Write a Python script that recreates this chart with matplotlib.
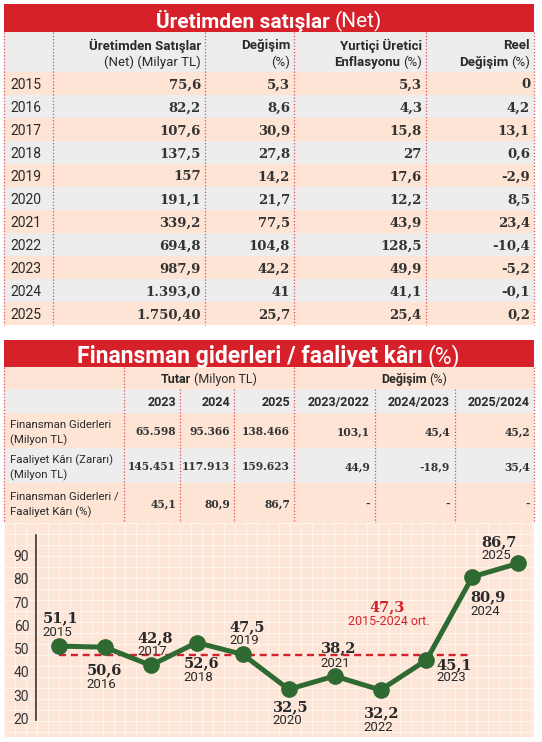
import matplotlib
matplotlib.use("Agg")
import matplotlib.pyplot as plt
from matplotlib.patches import Rectangle

W, H = 542, 742

# ---- top table: Üretimden satışlar (Net)
years = ["2015", "2016", "2017", "2018", "2019", "2020",
         "2021", "2022", "2023", "2024", "2025"]
sales_net = ["75,6", "82,2", "107,6", "137,5", "157", "191,1",
             "339,2", "694,8", "987,9", "1.393,0", "1.750,40"]
sales_change = ["5,3", "8,6", "30,9", "27,8", "14,2", "21,7",
                "77,5", "104,8", "42,2", "41", "25,7"]
producer_inflation = ["5,3", "4,3", "15,8", "27", "17,6", "12,2",
                      "43,9", "128,5", "49,9", "41,1", "25,4"]
real_change = ["0", "4,2", "13,1", "0,6", "-2,9", "8,5",
               "23,4", "-10,4", "-5,2", "-0,1", "0,2"]

# ---- second table: Finansman giderleri / faaliyet kârı
fin_years = ["2023", "2024", "2025"]
chg_periods = ["2023/2022", "2024/2023", "2025/2024"]
row_labels = [("Finansman Giderleri", "(Milyon TL)"),
              ("Faaliyet Kârı (Zararı)", "(Milyon TL)"),
              ("Finansman Giderleri /", "Faaliyet Kârı (%)")]
fin_expense = ["65.598", "95.366", "138.466", "103,1", "45,4", "45,2"]
op_profit = ["145.451", "117.913", "159.623", "44,9", "-18,9", "35,4"]
ratio_row = ["45,1", "80,9", "86,7", "-", "-", "-"]

# ---- line chart
ratio_years = [2015, 2016, 2017, 2018, 2019, 2020, 2021, 2022, 2023, 2024, 2025]
ratio_values = [51.1, 50.6, 42.8, 52.6, 47.5, 32.5, 38.2, 32.2, 45.1, 80.9, 86.7]
avg_value = 47.3
avg_span = (2015, 2024)
avg_note = "2015-2024 ort."

# label offsets (pixels) for each point: dx of left edge, dy of value, dy of year
label_offsets = [(-16, 29, 15), (-18, -21, -36), (-13, 29, 15), (-13, -19, -33),
                 (-13, 29, 15), (-16, -16, -30), (-14, 29, 14), (-17, -22, -36),
                 (10, -4, -16), (-2, -19, -33), (-37, 23, 9)]

RED = "#d6202a"
PINK = "#fde4d5"
GREY = "#ededed"
PEACH = "#fde6d8"
GREEN = "#2e6a31"
SEP = "#e04a50"
INK = "#2a2a2a"
SANS = ["Roboto", "DejaVu Sans"]
SERIF = ["DejaVu Serif"]

fig = plt.figure(figsize=(W / 100, H / 100), dpi=100)
ax = fig.add_axes([0, 0, 1, 1])
ax.set_xlim(0, W)
ax.set_ylim(H, 0)
ax.axis("off")
renderer = fig.canvas.get_renderer()


def rich(x, y, parts, ha="left", size=9, color=INK, gap=0.2, family=SANS):
    # parts: (text, weight) drawn side by side
    items = [ax.text(0, y, s, fontweight=w, fontsize=size, family=family, color=color,
                     ha="left", va="center_baseline") for s, w in parts]
    widths = [t.get_window_extent(renderer=renderer).width for t in items]
    g = size * gap * 1.39
    total = sum(widths) + g * (len(items) - 1)
    start = {"left": x, "center": x - total / 2, "right": x - total}[ha]
    for t, wd in zip(items, widths):
        t.set_x(start)
        start += wd + g


def band(y0, y1, color, x0=4, x1=534):
    ax.add_patch(Rectangle((x0, y0), x1 - x0, y1 - y0, color=color, lw=0))


def seps(xs, y0, y1):
    ax.vlines(xs, y0, y1, colors=SEP, linestyles=(0, (1, 1.6)), lw=0.9)


# ================= top table =================
band(4, 32, RED)
rich(269, 19, [("Üretimden satışlar", "bold"), ("(Net)", "normal")],
     ha="center", size=15, color="white")

band(32, 72, GREY)
col_right = [201, 290, 422, 530]
head1 = [[("Üretimden Satışlar", "bold")], [("Değişim", "bold")],
         [("Yurtiçi Üretici", "bold")], [("Reel", "bold")]]
head2 = [[("(Net) (Milyar TL)", "normal")], [("(%)", "normal")],
         [("Enflasyonu", "bold"), ("(%)", "normal")],
         [("Değişim", "bold"), ("(%)", "normal")]]
for xr, h1, h2 in zip(col_right, head1, head2):
    rich(xr, 44, h1, ha="right", size=9.5)
    rich(xr, 61, h2, ha="right", size=9.5)

row_top, row_h = 72, 23
for i, yr in enumerate(years):
    y0 = row_top + i * row_h
    band(y0, y0 + row_h, PINK if i % 2 == 0 else GREY)
    yc = y0 + row_h / 2
    ax.text(10, yc, yr, family=SANS, fontsize=10, color=INK, va="center_baseline")
    for xr, col in zip(col_right, [sales_net, sales_change, producer_inflation, real_change]):
        ax.text(xr, yc, col[i], family=SERIF, fontweight="bold", fontsize=9.5,
                color="#333333", ha="right", va="center_baseline")
seps([4, 53, 205, 294, 426, 534], 32, row_top + len(years) * row_h)

# ================= second table =================
band(340, 367, RED)
rich(269, 354, [("Finansman giderleri / faaliyet kârı", "bold"), ("(%)", "normal")],
     ha="center", size=16.5, color="white")

band(367, 389, PINK)
rich(209, 378, [("Tutar", "bold"), ("(Milyon TL)", "normal")], ha="center", size=9)
rich(414, 378, [("Değişim", "bold"), ("(%)", "normal")], ha="center", size=9)

band(389, 413, GREY)
fin_right = [176, 230, 290, 370, 450, 530]
for xr, lab in zip(fin_right, fin_years + chg_periods):
    ax.text(xr, 401, lab, family=SANS, fontweight="bold", fontsize=9, color=INK,
            ha="right", va="center_baseline")

rows = [(413, 448, PINK), (448, 483, GREY), (483, 523, PINK)]
for (y0, y1, colr), labels, cells in zip(rows, row_labels, [fin_expense, op_profit, ratio_row]):
    band(y0, y1, colr)
    yc = (y0 + y1) / 2
    ax.text(10, yc - 7, labels[0], family=SANS, fontsize=8.2,
            color=INK, va="center_baseline")
    ax.text(10, yc + 8, labels[1], family=SANS, fontsize=8.2,
            color=INK, va="center_baseline")
    for xr, val in zip(fin_right, cells):
        ax.text(xr, yc, val, family=SERIF, fontweight="bold", fontsize=7.7,
                color="#333333", ha="right", va="center_baseline")
seps([4, 124, 294, 534], 367, 523)
seps([180, 234, 375, 455], 389, 523)

# ================= chart background =================
ax.add_patch(Rectangle((4, 523), 530, 214, color=PEACH, lw=0))
for gx in range(4, 535, 11):
    ax.plot([gx, gx], [523, 737], color="white", lw=0.5, alpha=0.8)
for gy in range(523, 738, 11):
    ax.plot([4, 534], [gy, gy], color="white", lw=0.5, alpha=0.8)

rich(387, 606, [(f"{avg_value:.1f}".replace(".", ","), "bold")], ha="center",
     size=10.5, color=RED, family=SERIF)
ax.text(389, 620, avg_note, family=SANS, fontsize=9, color=RED,
        ha="center", va="center_baseline")

# ================= line chart =================
def px_axes(x0, y0, x1, y1):
    return fig.add_axes([x0 / W, 1 - y1 / H, (x1 - x0) / W, (y1 - y0) / H])


cax = px_axes(35.5, 535, 534, 720)
cax.patch.set_alpha(0)
cax.set_xlim(2014.49, 2025.34)
cax.set_ylim(19.3, 98.87)
for s in ["top", "right", "bottom"]:
    cax.spines[s].set_visible(False)
cax.spines["left"].set_color("#333333")
cax.spines["left"].set_linewidth(1.2)
cax.set_xticks([])
cax.set_yticks(range(20, 100, 10))
cax.tick_params(axis="y", length=0, pad=4.5, labelsize=10, labelcolor="#333333")
for t in cax.get_yticklabels():
    t.set_family(SANS)

cax.hlines(avg_value, avg_span[0], avg_span[1], colors=RED, lw=1.7,
           linestyles=(0, (3, 2)), zorder=2)
cax.plot(ratio_years, ratio_values, color=GREEN, lw=3.6, marker="o",
         markersize=11, zorder=3, clip_on=False)

for yr, v, (dx, dv, dy) in zip(ratio_years, ratio_values, label_offsets):
    cax.annotate(f"{v:.1f}".replace(".", ","), (yr, v), xytext=(dx, dv),
                 textcoords="offset pixels", ha="left", va="center_baseline",
                 family=SERIF, fontweight="bold", fontsize=10.5, color=INK,
                 annotation_clip=False)
    cax.annotate(str(yr), (yr, v), xytext=(dx, dy), textcoords="offset pixels",
                 ha="left", va="center_baseline", family=SANS, fontsize=9.5,
                 color=INK, annotation_clip=False)

fig.savefig("out.png", dpi=100)
